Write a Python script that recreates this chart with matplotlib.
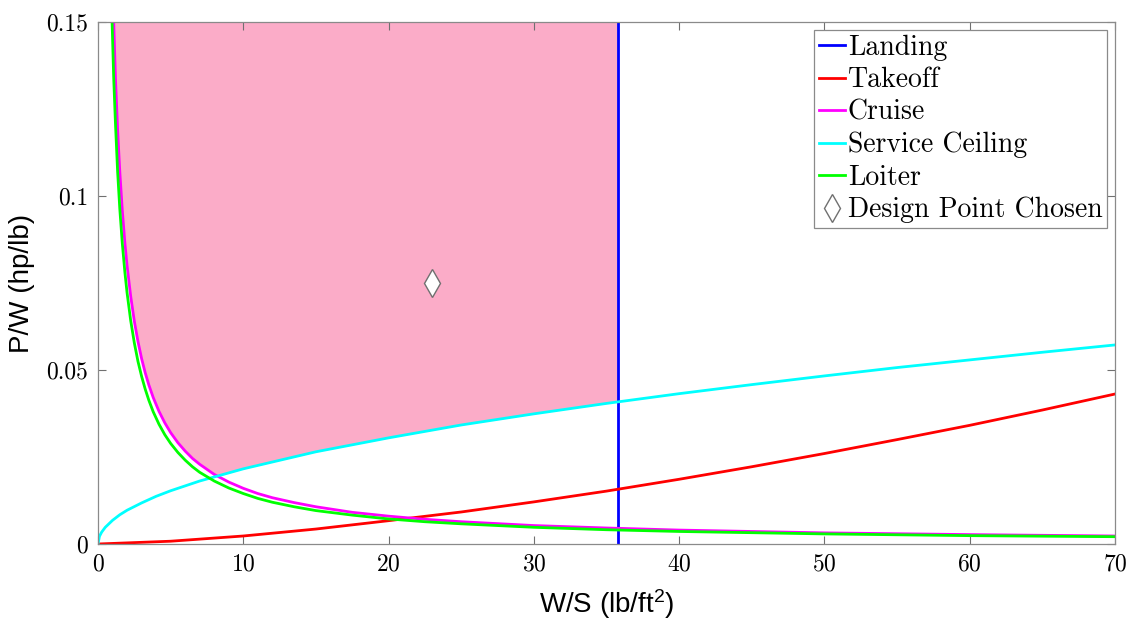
# Constraint diagram (P/W vs W/S)
import numpy as np
import matplotlib
matplotlib.use("Agg")
import matplotlib.pyplot as plt

# DATA
# W/S of the landing limit
ws_landing = 35.8

# Takeoff
ws_to = [0, 5, 10, 15, 20, 25, 30, 35, 40, 45, 50, 55, 60, 65, 70]
pw_to = [0, 0.0008, 0.0023, 0.0043, 0.0067, 0.0092, 0.0121, 0.0152, 0.0186,
         0.0222, 0.0260, 0.0300, 0.0341, 0.0385, 0.0431]

# Cruise
ws_cr = [1.08, 1.2, 1.35, 1.5, 1.67, 1.85, 2, 2.25, 2.5, 2.75, 3, 3.25, 3.5,
         3.8, 4.2, 4.6, 5, 5.5, 6, 6.5, 7, 8, 9, 10, 11, 12, 13.5, 15, 17.5,
         20, 22.5, 25, 30, 35, 40, 50, 60, 70]
pw_cr = [0.150, 0.134, 0.119, 0.107, 0.096, 0.0865, 0.080, 0.0712, 0.064,
         0.0582, 0.0533, 0.0492, 0.0457, 0.0421, 0.0381, 0.0348, 0.032,
         0.0291, 0.0267, 0.0246, 0.0229, 0.020, 0.0178, 0.016, 0.0145, 0.0133,
         0.0119, 0.0107, 0.0091, 0.0080, 0.0071, 0.0064, 0.0053, 0.0046,
         0.0040, 0.0032, 0.0027, 0.0023]

# Service ceiling
ws_sc = [0, 0.1, 0.25, 0.5, 1, 1.5, 2, 3, 4, 5, 7, 10, 15, 20, 25, 30, 35, 40,
         45, 50, 55, 60, 65, 70]
pw_sc = [0, 0.0022, 0.0034, 0.0048, 0.0068, 0.0084, 0.0097, 0.0118, 0.0137,
         0.0153, 0.0181, 0.0216, 0.0265, 0.0305, 0.0342, 0.0374, 0.0404,
         0.0432, 0.0458, 0.0483, 0.0507, 0.0529, 0.0551, 0.0572]

# Loiter
ws_lo = [0.97, 1.08, 1.2, 1.35, 1.5, 1.67, 1.85, 2, 2.25, 2.5, 2.75, 3, 3.25,
         3.5, 3.8, 4.2, 4.6, 5, 5.5, 6, 6.5, 7, 8, 9, 10, 11, 12, 13.5, 15,
         17.5, 20, 22.5, 25, 30, 35, 40, 50, 60, 70]
pw_lo = [0.150, 0.134, 0.121, 0.107, 0.0963, 0.0865, 0.0781, 0.0722, 0.0642,
         0.0578, 0.0525, 0.0482, 0.0445, 0.0413, 0.0380, 0.0344, 0.0314,
         0.0289, 0.0263, 0.0241, 0.0222, 0.0206, 0.0181, 0.0161, 0.0145,
         0.0131, 0.0120, 0.0107, 0.0096, 0.0083, 0.0072, 0.0064, 0.0058,
         0.0048, 0.0041, 0.0036, 0.0029, 0.0024, 0.0021]

# Design point
ws_dp, pw_dp = 23.0, 0.075

# Ticks
xticks = [0, 10, 20, 30, 40, 50, 60, 70]
yticks = [0, 0.05, 0.1, 0.15]
ytick_labels = ["0", "0.05", "0.1", "0.15"]

# ESTILO
plt.rcParams['font.family'] = ['cmr10', 'DejaVu Serif']
plt.rcParams['axes.formatter.use_mathtext'] = True
plt.rcParams['mathtext.fontset'] = 'custom'
plt.rcParams['mathtext.rm'] = 'Liberation Sans'
plt.rcParams['mathtext.it'] = 'Liberation Sans'

fig = plt.figure(figsize=(11.34, 6.33), dpi=100)
ax = fig.add_axes([98/1134, 1 - 544/633, (1115-98)/1134, (544-22)/633])

# Feasible region: above cruise and ceiling, left of landing
x_fill = np.linspace(ws_cr[0], ws_landing, 600)
low = np.maximum(np.interp(x_fill, ws_cr, pw_cr), np.interp(x_fill, ws_sc, pw_sc))
ax.fill_between(x_fill, low, 0.15, color='#FBACC8', lw=0)

lw = 2.0
ax.plot([ws_landing, ws_landing], [0, 0.15], color='#0000FF', lw=lw, label='Landing')
ax.plot(ws_to, pw_to, color='#FF0000', lw=lw, label='Takeoff')
ax.plot(ws_cr, pw_cr, color='#FF00FF', lw=lw, label='Cruise')
ax.plot(ws_sc, pw_sc, color='#00FFFF', lw=lw, label='Service Ceiling')
ax.plot(ws_lo, pw_lo, color='#00FF00', lw=lw, label='Loiter')
ax.plot(ws_dp, pw_dp, 'd', ms=14, mfc='white', mec='#707070', mew=1.0,
        ls='none', label='Design Point Chosen')

ax.set_xlim(0, 70)
ax.set_ylim(0, 0.15)
ax.set_xticks(xticks)
ax.set_yticks(yticks)
ax.set_yticklabels(ytick_labels)
ax.tick_params(direction='in', top=True, right=True, labelsize=17,
               color='#707070', length=6, width=0.8, pad=7)
for s in ax.spines.values():
    s.set_color('#8a8a8a')
    s.set_linewidth(0.9)

ax.set_xlabel('W/S (lb/ft$^2$)', family='Liberation Sans', fontsize=20, labelpad=8)
ax.set_ylabel('P/W (hp/lb)', family='Liberation Sans', fontsize=20, labelpad=8)

leg = ax.legend(loc='upper right', fontsize=20, handlelength=0.95, handletextpad=0.1,
                borderaxespad=0.3, borderpad=0.15, labelspacing=0.22,
                fancybox=False, framealpha=1, edgecolor='#8a8a8a', markerscale=1.0)
leg.get_frame().set_linewidth(0.9)

fig.savefig('out.png', dpi=100)
